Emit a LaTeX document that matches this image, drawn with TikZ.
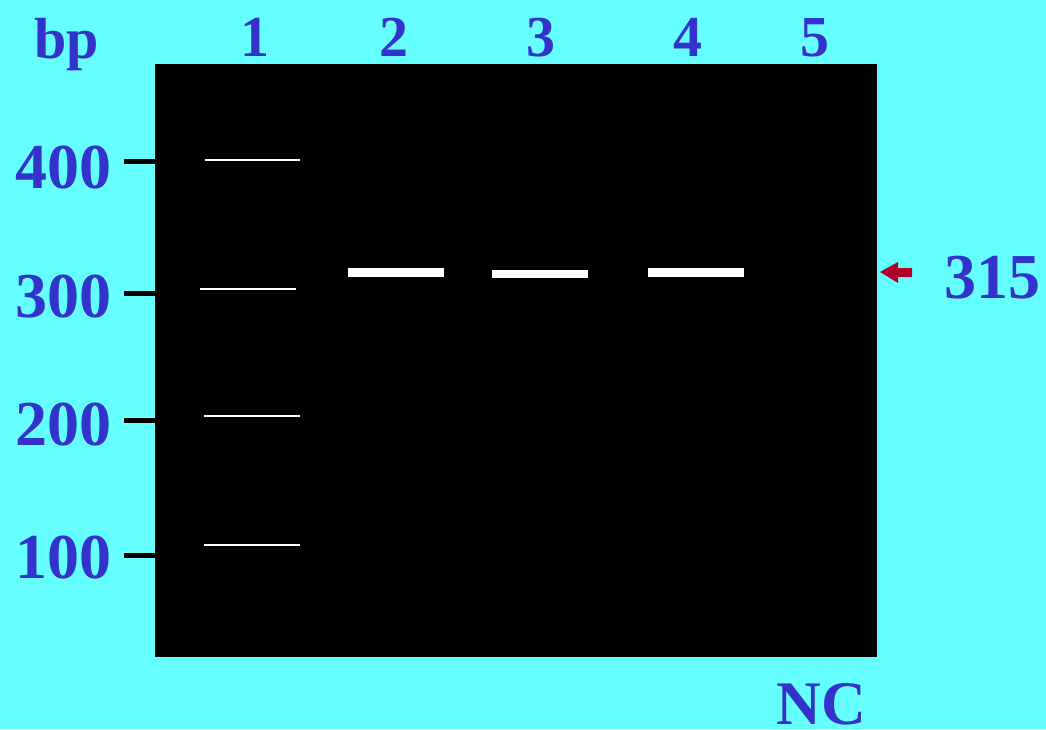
\documentclass[tikz,border=0pt]{standalone}
\usepackage{fontspec}
\setmainfont{Liberation Serif}
\begin{document}
\begin{tikzpicture}[x=1pt,y=-1pt,
  lbl/.style={text=labblue,font=\bfseries\fontsize{64}{64}\selectfont,inner sep=0pt},
  lanelbl/.style={text=labblue,font=\bfseries\fontsize{58}{58}\selectfont,inner sep=0pt},
  ladder/.style={draw=white,line width=2pt},
  band/.style={draw=white,line width=8.5pt},
  tick/.style={draw=black,line width=5pt}]
\definecolor{bg}{HTML}{66FFFF}
\definecolor{labblue}{HTML}{3333CC}
\definecolor{arrred}{HTML}{B0002A}
\fill[bg] (0,0) rectangle (1046,729);
\useasboundingbox (0,0) rectangle (1046,729);
\node[fill=black,minimum width=722pt,minimum height=593pt,inner sep=0pt,anchor=north west] (gel) at (155,64) {};
% labels
\node[lanelbl,anchor=base] (bp) at (67,58) {bp};
\node[lanelbl,anchor=base] (l1) at (255,56) {1};
\node[lanelbl,anchor=base] (l2) at (394,56) {2};
\node[lanelbl,anchor=base] (l3) at (541,56) {3};
\node[lanelbl,anchor=base] (l4) at (688,56) {4};
\node[lanelbl,anchor=base] (l5) at (815,56) {5};
\node[lbl,anchor=base] (m400) at (63,188) {400};
\node[lbl,anchor=base] (m300) at (63,317) {300};
\node[lbl,anchor=base] (m200) at (63,445) {200};
\node[lbl,anchor=base] (m100) at (63,578) {100};
\node[lbl,anchor=base] (s315) at (992,298) {315};
\node[lbl,anchor=base,font=\bfseries\fontsize{62}{62}\selectfont] (nc) at (821,724) {NC};
% ticks
\coordinate (t400) at (124,161); \coordinate (t300) at (124,293);
\coordinate (t200) at (124,420); \coordinate (t100) at (124,555);
\draw[tick] (t400) -- (t400 -| gel.west);
\draw[tick] (t300) -- (t300 -| gel.west);
\draw[tick] (t200) -- (t200 -| gel.west);
\draw[tick] (t100) -- (t100 -| gel.west);
% ladder bands
\draw[ladder] (205,160) -- (300,160);
\draw[ladder] (200,289) -- (296,289);
\draw[ladder] (204,416) -- (300,416);
\draw[ladder] (204,545) -- (300,545);
% sample bands
\draw[band] (348,272.5) -- (444,272.5);
\draw[band] (492,274) -- (588,274);
\draw[band] (648,272.5) -- (744,272.5);
% arrow
\coordinate (atip) at (880,272);
\fill[arrred] (atip) -- (898,262) -- (898,268) -- (912,268) -- (912,277) -- (898,277) -- (898,283) -- cycle;
\end{tikzpicture}
\end{document}
